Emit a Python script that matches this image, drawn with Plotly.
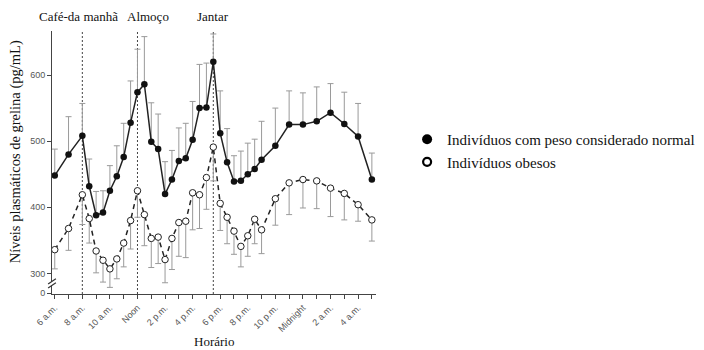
import plotly.graph_objects as go

# hours after 6 a.m.
hours = [0, 1, 2, 2.5, 3, 3.5, 4, 4.5, 5, 5.5, 6, 6.5, 7, 7.5, 8, 8.5, 9, 9.5, 10, 10.5,
         11, 11.5, 12, 12.5, 13, 13.5, 14, 14.5, 15, 16, 17, 18, 19, 20, 21, 22, 23]

normal = [448, 480, 508, 432, 388, 392, 425, 447, 476, 528, 574, 586, 499, 488, 420, 442,
          470, 474, 502, 550, 551, 620, 512, 468, 439, 440, 450, 458, 472, 493, 525, 525,
          530, 543, 526, 507, 442]
normal_err = [40, 57, 49, 41, 36, 33, 38, 46, 51, 63, 65, 72, 59, 53, 49, 44, 50, 53, 58, 66,
              67, 42, 64, 51, 39, 45, 47, 45, 58, 57, 51, 48, 52, 44, 48, 50, 40]

obese = [336, 368, 419, 383, 334, 320, 307, 322, 346, 380, 425, 389, 353, 355, 321, 353,
         377, 379, 422, 419, 445, 491, 406, 385, 364, 341, 357, 382, 366, 413, 437, 442,
         440, 429, 421, 404, 381]
obese_err = [29, 33, 45, 37, 33, 33, 28, 30, 36, 43, 40, 47, 44, 40, 35, 47, 51, 55, 56, 51,
             48, 51, 41, 40, 35, 31, 31, 37, 36, 40, 48, 43, 42, 43, 40, 25, 32]

tick_hours = [0, 2, 4, 6, 8, 10, 12, 14, 16, 18, 20, 22]
tick_labels = ["6 a.m.", "8 a.m.", "10 a.m.", "Noon", "2 p.m.", "4 p.m.", "6 p.m.",
               "8 p.m.", "10 p.m.", "Midnight", "2 a.m.", "4 a.m."]
minor_hours = list(range(24))

y_tickvals = [270, 300, 400, 500, 600]
y_ticktext = ["0", "300", "400", "500", "600"]

meal_hours = [2, 6, 11.5]
meal_label_hours = [1.75, 6.75, 11.5]
meal_labels = ["Café-da manhã", "Almoço", "Jantar"]

legend_names = ["Indivíduos com peso considerado normal", "Indivíduos obesos"]
y_title = "Níveis plasmáticos de grelina (pg/mL)"
x_title = "Horário"

SERIF = "Liberation Serif, Times New Roman, serif"
SANS = "Liberation Sans, Arial, sans-serif"
ERR_COLOR = "#9a9a9a"

fig = go.Figure()

fig.add_trace(go.Scatter(
    x=hours, y=obese, mode="lines+markers", showlegend=False,
    line=dict(color="#222", width=1.5, dash="5px,4px"),
    marker=dict(symbol="circle", size=6.5, color="white", line=dict(color="#222", width=1)),
    error_y=dict(type="data", symmetric=False, array=[0] * len(obese), arrayminus=obese_err,
                 color=ERR_COLOR, thickness=1, width=3),
))
fig.add_trace(go.Scatter(
    x=hours, y=normal, mode="lines+markers", showlegend=False,
    line=dict(color="#222", width=1.5),
    marker=dict(symbol="circle", size=6.5, color="#111"),
    error_y=dict(type="data", symmetric=False, array=normal_err, arrayminus=[0] * len(normal),
                 color=ERR_COLOR, thickness=1, width=3),
))

# legend-only traces
fig.add_trace(go.Scatter(x=[None], y=[None], mode="markers", name=legend_names[0],
                         marker=dict(symbol="circle", size=10, color="black")))
fig.add_trace(go.Scatter(x=[None], y=[None], mode="markers", name=legend_names[1],
                         marker=dict(symbol="circle", size=8, color="white",
                                     line=dict(color="black", width=2.2))))

shapes = []
for h in meal_hours:
    shapes.append(dict(type="line", xref="x", yref="paper", x0=h, x1=h, y0=0, y1=1,
                       line=dict(color="#444", width=1, dash="2px,2px"), layer="below"))
# axis break marks
shapes.append(dict(type="rect", xref="paper", yref="y", x0=-0.006, x1=0.006, y0=282, y1=288,
                   fillcolor="white", line=dict(width=0), layer="above"))
for yb in (282, 288):
    shapes.append(dict(type="line", xref="paper", yref="y", x0=-0.012, x1=0.012,
                       y0=yb - 4, y1=yb + 4, line=dict(color="#333", width=1.2), layer="above"))

annotations = []
for h, t in zip(meal_label_hours, meal_labels):
    annotations.append(dict(x=h, y=1.057, xref="x", yref="paper", text=t, showarrow=False,
                            font=dict(family=SERIF, size=13, color="#111"),
                            xanchor="center", yanchor="middle"))
annotations.append(dict(x=-0.11, y=0.54, xref="paper", yref="paper", text=y_title,
                        textangle=-90, showarrow=False, xanchor="center", yanchor="middle",
                        font=dict(family=SERIF, size=14.5, color="#111")))
annotations.append(dict(x=0.5, y=-0.182, xref="paper", yref="paper", text=x_title,
                        showarrow=False, xanchor="center", yanchor="middle",
                        font=dict(family=SERIF, size=13, color="#111")))

fig.update_layout(
    width=704, height=350,
    margin=dict(l=44, r=325, t=23, b=64),
    paper_bgcolor="white", plot_bgcolor="white",
    shapes=shapes, annotations=annotations,
    legend=dict(x=1.096, y=0.65, xanchor="left", yanchor="top",
                font=dict(family=SERIF, size=15, color="#111"),
                bgcolor="rgba(0,0,0,0)", itemwidth=30),
    xaxis=dict(range=[-0.2, 23.3], tickmode="array", tickvals=tick_hours, ticktext=tick_labels,
               tickangle=-45, tickfont=dict(family=SANS, size=9, color="#555"),
               ticks="outside", ticklen=4, tickcolor="#444", showline=True, linecolor="#444",
               linewidth=1, showgrid=False, zeroline=False, automargin=False,
               minor=dict(tickmode="array", tickvals=minor_hours, ticks="outside", ticklen=4,
                          tickcolor="#444", showgrid=False)),
    yaxis=dict(range=[269, 666.5], tickmode="array", tickvals=y_tickvals, ticktext=y_ticktext,
               tickfont=dict(family=SANS, size=9, color="#555"),
               ticks="outside", ticklen=4, tickcolor="#444", showline=True, linecolor="#444",
               linewidth=1, showgrid=False, zeroline=False, automargin=False),
)

fig.write_html("out.html")
